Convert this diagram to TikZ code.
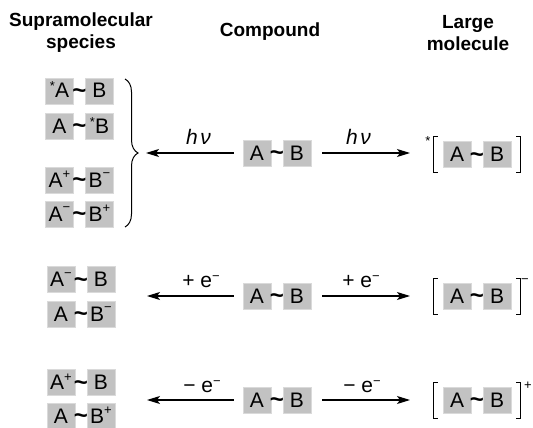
\documentclass[tikz,border=0pt]{standalone}
\usepackage{fontspec}
\setmainfont{Liberation Sans}
\usetikzlibrary{arrows.meta,decorations.pathreplacing,calc}
\definecolor{boxgray}{RGB}{194,194,194}
\newcommand\spc[2]{\raisebox{#1}{\fontsize{13}{13}\selectfont #2}}
\newcommand\pair[5]{%
  \node[box] (#1a) at (#2,#3) {#4};
  \node[box] (#1b) at (#2+40,#3) {#5};
  \node[tld, anchor=base] (#1t) at (#2+20,#3+7.5) {\textasciitilde};
}
\newcommand\brackets[1]{%
  \draw[brk] ($(#1a.west)+(-5,-18)$) -- ++(-4,0) -- ++(0,36) -- ++(4,0);
  \draw[brk] ($(#1b.east)+(5,-18)$) -- ++(4,0) -- ++(0,36) -- ++(-4,0);
}
\begin{document}
\begin{tikzpicture}[x=1pt,y=-1pt,
  box/.style={fill=boxgray, draw=boxgray!60!white, line width=0.5pt,
    minimum width=28pt, minimum height=26pt, inner sep=0pt,
    text height=14pt, text depth=0pt, font=\fontsize{21}{24}\selectfont},
  tld/.style={inner sep=0pt, font=\bfseries\fontsize{24}{26}\selectfont},
  hdr/.style={font=\bfseries\fontsize{19}{22}\selectfont, align=center, inner sep=0pt},
  lbl/.style={font=\fontsize{21}{24}\selectfont, inner sep=0pt, anchor=base},
  sml/.style={font=\fontsize{13}{13}\selectfont, inner sep=0pt},
  arr/.style={-{Stealth[length=13pt,width=8pt,inset=3pt]}, line width=1.2pt},
  brk/.style={line width=1pt}]
\useasboundingbox (0,0) rectangle (533,428);

% headers
\node[hdr] (h1) at (81,33) {Supramolecular\\species};
\node[hdr] (h2) at (270,32) {Compound};
\node[hdr] (h3) at (468,33) {Large\\molecule};

% supramolecular species
\pair{sa}{59.5}{91}{\spc{8pt}{*}A}{B}
\pair{sb}{59.5}{126}{A}{\spc{7pt}{*}B}
\pair{sc}{59.5}{180}{A\spc{8.5pt}{+}}{B\spc{9.5pt}{−}}
\pair{sd}{59.5}{214}{A\spc{9.5pt}{−}}{B\spc{8.5pt}{+}}
\pair{ra}{61}{279.5}{A\spc{9.5pt}{−}}{B}
\pair{rb}{61}{314}{A}{B\spc{9.5pt}{−}}
\pair{oa}{61}{382.5}{A\spc{8.5pt}{+}}{B}
\pair{ob}{61}{416}{A}{B\spc{8.5pt}{+}}

% compounds
\pair{ma}{257}{153}{A}{B}
\pair{mb}{257}{296}{A}{B}
\pair{mc}{257}{400}{A}{B}

% large molecules
\pair{La}{457}{154.5}{A}{B}
\pair{Lb}{457}{296}{A}{B}
\pair{Lc}{457}{400}{A}{B}
\brackets{La}
\brackets{Lb}
\brackets{Lc}
\node[sml] (ast) at (428,141) {*};
\node[sml] (sm) at (525,281) {−};
\node[sml] (sp) at (528,386) {+};

% brace
\coordinate (bt) at (125,79);
\coordinate (bb) at (125,227);
\draw[brk, decorate, decoration={brace, amplitude=13pt}] (bt) -- (bb);

% arrow ends
\coordinate (lt1) at (146,153);
\coordinate (rt1) at (410,153);
\coordinate (lt2) at (147,296);
\coordinate (rt2) at (410,296);
\coordinate (lt3) at (147,400);
\coordinate (rt3) at (410,400);

\draw[arr] ([xshift=-9pt]maa.west) -- (lt1);
\draw[arr] ([xshift=11pt]mab.east) -- (rt1);
\draw[arr] ([xshift=-9pt]mba.west) -- (lt2);
\draw[arr] ([xshift=11pt]mbb.east) -- (rt2);
\draw[arr] ([xshift=-9pt]mca.west) -- (lt3);
\draw[arr] ([xshift=11pt]mcb.east) -- (rt3);

% arrow labels
\node[lbl, font=\itshape\fontsize{21}{24}\selectfont] (l1) at (198.5,144) {h\kern2.5pt ν};
\node[lbl, font=\itshape\fontsize{21}{24}\selectfont] (r1) at (358.5,144) {h\kern2.5pt ν};
\node[lbl] (l2) at (201,287) {+ e\spc{7pt}{−}};
\node[lbl] (r2) at (361,287) {+ e\spc{7pt}{−}};
\node[lbl] (l3) at (202,392) {− e\spc{7pt}{−}};
\node[lbl] (r3) at (362,392) {− e\spc{7pt}{−}};
\end{tikzpicture}
\end{document}
